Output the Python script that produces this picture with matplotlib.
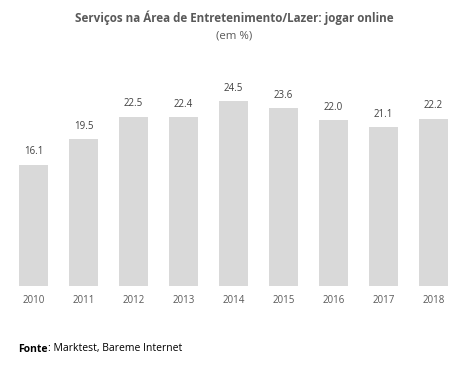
import matplotlib
matplotlib.use("Agg")
import matplotlib.pyplot as plt

years = ["2010", "2011", "2012", "2013", "2014", "2015", "2016", "2017", "2018"]
values = [16.1, 19.5, 22.5, 22.4, 24.5, 23.6, 22.0, 21.1, 22.2]

plt.rcParams['font.family'] = ['Open Sans', 'DejaVu Sans']
W, H = 469, 366
fig = plt.figure(figsize=(W/100, H/100), dpi=100)
ax = fig.add_axes([8.5/W, 1 - 286/H, 450/W, (286-60)/H])
x = range(len(years))
ax.bar(x, values, width=0.58, color="#d9d9d9")
for xi, v in zip(x, values):
    ax.text(xi, v + 1.0, f"{v:.1f}", ha="center", va="bottom", fontsize=7, color="#404040")
ax.set_xlim(-0.5, len(years) - 0.5)
ax.set_ylim(0, 30)
ax.set_xticks(list(x))
ax.set_xticklabels(years, fontsize=7, color="#595959")
ax.tick_params(axis="x", length=0, pad=6.5)
ax.set_yticks([])
for s in ax.spines.values():
    s.set_visible(False)

fig.text(0.5, 1 - 18/H, "Serviços na Área de Entretenimento/Lazer: jogar online",
         ha="center", va="center", fontsize=8.4, fontweight="bold", color="#595959")
fig.text(0.5, 1 - 36/H, "(em %)", ha="center", va="center", fontsize=8.2, color="#595959")
t1 = fig.text(18/W, 1 - 349/H, "Fonte", ha="left", va="center", fontsize=7.5, fontweight="bold", color="black")
fig.canvas.draw()
bb = t1.get_window_extent()
fig.text(bb.x1 / W, 1 - 349/H, ": Marktest, Bareme Internet", ha="left", va="center", fontsize=7.5, color="black")

fig.savefig("out.png", dpi=100, facecolor="white")
